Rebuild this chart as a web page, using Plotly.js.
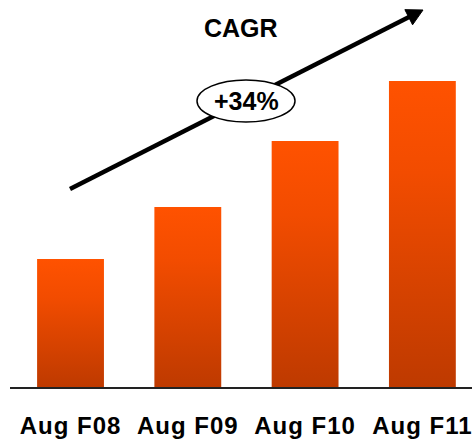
<!DOCTYPE html>
<html>
<head>
<meta charset="utf-8">
<script src="https://cdn.plot.ly/plotly-3.0.1.min.js"></script>
<style>
  html, body { margin: 0; padding: 0; background: #fff; }
  #chart { width: 472px; height: 441px; }
  #chart .xtick text { letter-spacing: 1px; }
</style>
</head>
<body>
<div id="chart"></div>
<script>
// Monthly volume by fiscal year (indexed units)
const periods = ['Aug F08', 'Aug F09', 'Aug F10', 'Aug F11'];
const volumes = [1.28, 1.80, 2.46, 3.06];
const cagrLabel = '+34%';
const cagrTitle = 'CAGR';

const W = 472, H = 441;
const M = { l: 10, r: 0, t: 0, b: 54 };
const plotW = W - M.l - M.r, plotH = H - M.t - M.b;

// pixel -> paper helpers for the decorative overlay
const px = v => (v - M.l) / plotW;
const py = v => (M.t + plotH - v) / plotH;

const FONT = 'Liberation Sans, Arial, Helvetica, sans-serif';

// CAGR arrow geometry (pixels)
const tail = [70, 189], tip = [423, 10];
const headLen = 16, headHalf = 8.5;
const dx = tip[0] - tail[0], dy = tip[1] - tail[1];
const len = Math.hypot(dx, dy);
const ux = dx / len, uy = dy / len;
const base = [tip[0] - ux * headLen, tip[1] - uy * headLen];
const nx = -uy, ny = ux;
const c1 = [base[0] + nx * headHalf, base[1] + ny * headHalf];
const c2 = [base[0] - nx * headHalf, base[1] - ny * headHalf];
const headPath = `M ${px(tip[0])} ${py(tip[1])} L ${px(c1[0])} ${py(c1[1])} L ${px(c2[0])} ${py(c2[1])} Z`;

const data = [{
  type: 'bar',
  x: periods,
  y: volumes,
  width: 0.57,
  marker: { color: '#E84800', line: { width: 0 } },
  hoverinfo: 'skip'
}];

const layout = {
  width: W, height: H,
  margin: M,
  paper_bgcolor: '#fff', plot_bgcolor: '#fff',
  showlegend: false,
  xaxis: {
    type: 'category',
    range: [-0.516, 3.423],
    showline: true, linecolor: '#222', linewidth: 2,
    ticks: '', showgrid: false, zeroline: false,
    ticklabelstandoff: 16,
    tickfont: { family: FONT, size: 24, color: '#000', weight: 'bold' },
    fixedrange: true
  },
  yaxis: {
    range: [0, 3.87],
    visible: false, showgrid: false, zeroline: false,
    fixedrange: true
  },
  shapes: [
    { type: 'line', xref: 'paper', yref: 'paper', layer: 'above',
      x0: px(tail[0]), y0: py(tail[1]), x1: px(base[0] + ux * 2), y1: py(base[1] + uy * 2),
      line: { color: '#000', width: 4.5 } },
    { type: 'path', xref: 'paper', yref: 'paper', layer: 'above',
      path: headPath, fillcolor: '#000', line: { color: '#000', width: 1 } },
    { type: 'circle', xref: 'paper', yref: 'paper', layer: 'above',
      x0: px(197), x1: px(295), y0: py(122), y1: py(80),
      fillcolor: '#fff', line: { color: '#000', width: 1.5 } }
  ],
  annotations: [
    { xref: 'paper', yref: 'paper', x: px(240.5), y: py(27.5),
      xanchor: 'center', yanchor: 'middle', showarrow: false,
      text: cagrTitle,
      font: { family: FONT, size: 25, color: '#000', weight: 'bold' } },
    { xref: 'paper', yref: 'paper', x: px(246), y: py(100.5),
      xanchor: 'center', yanchor: 'middle', showarrow: false,
      text: cagrLabel,
      font: { family: FONT, size: 25, color: '#000', weight: 'bold' } }
  ]
};

const gd = document.getElementById('chart');
Plotly.newPlot(gd, data, layout, { staticPlot: true, displayModeBar: false }).then(() => {
  // vertical orange gradient on each bar
  const svgNS = 'http://www.w3.org/2000/svg';
  const svg = gd.querySelector('svg.main-svg');
  let defs = svg.querySelector('defs');
  if (!defs) { defs = document.createElementNS(svgNS, 'defs'); svg.insertBefore(defs, svg.firstChild); }
  const grad = document.createElementNS(svgNS, 'linearGradient');
  grad.setAttribute('id', 'barGrad');
  grad.setAttribute('x1', '0'); grad.setAttribute('y1', '0');
  grad.setAttribute('x2', '0'); grad.setAttribute('y2', '1');
  [['0', '#FF5200'], ['0.3', '#F24C00'], ['1', '#BE3A00']].forEach(([o, c]) => {
    const s = document.createElementNS(svgNS, 'stop');
    s.setAttribute('offset', o); s.setAttribute('stop-color', c);
    grad.appendChild(s);
  });
  defs.appendChild(grad);
  gd.querySelectorAll('.bars .point path').forEach(p => {
    p.style.fill = 'url(#barGrad)';
  });
});
</script>
</body>
</html>
